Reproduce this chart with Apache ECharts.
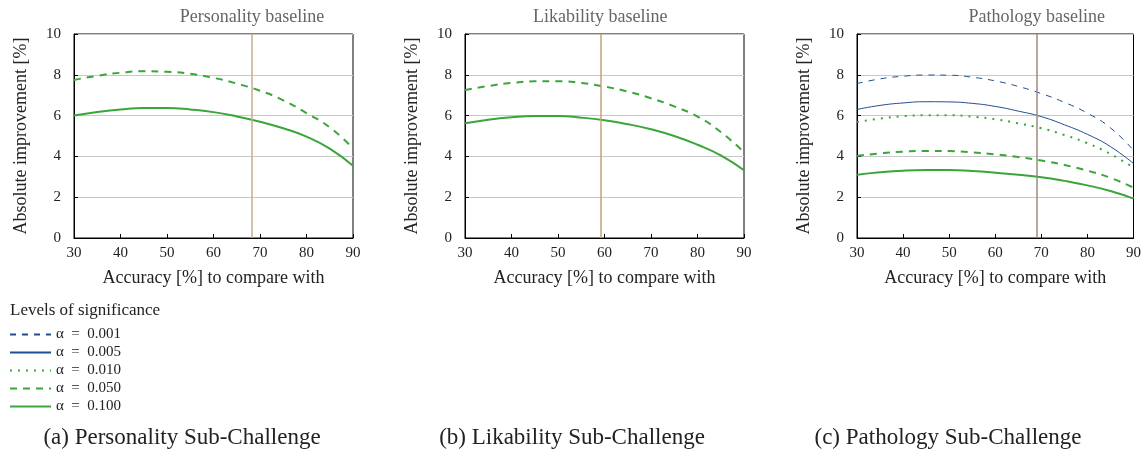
<!DOCTYPE html>
<html><head><meta charset="utf-8">
<script src="https://cdn.jsdelivr.net/npm/echarts@6/dist/echarts.min.js"></script>
<style>html,body{margin:0;padding:0;background:#fff}#c{width:1144px;height:451px}</style>
</head><body><div id="c"></div>
<script>
const accuracy = [30,35,40,45,50,55,60,65,70,75,80,85,90];
const yTicks = [0,2,4,6,8,10];
const legendNames = ['α = 0.001','α = 0.005','α = 0.010','α = 0.050','α = 0.100'];
const panelTitles = ['Personality baseline','Likability baseline','Pathology baseline'];
const captions = ['(a) Personality Sub-Challenge','(b) Likability Sub-Challenge','(c) Pathology Sub-Challenge'];
const baselines = [68.3, 59.1, 69.0];

// Personality
const pers_a050 = [7.75,7.95,8.10,8.17,8.15,8.05,7.85,7.57,7.22,6.75,6.12,5.42,4.40];
const pers_a100 = [6.00,6.18,6.30,6.37,6.37,6.30,6.17,5.96,5.70,5.38,4.97,4.38,3.54];
// Likability
const lik_a050 = [7.25,7.45,7.60,7.68,7.68,7.60,7.42,7.18,6.85,6.45,5.95,5.20,4.20];
const lik_a100 = [5.62,5.80,5.92,5.98,5.98,5.90,5.77,5.58,5.33,5.00,4.57,4.05,3.32];
// Pathology
const path_a001 = [7.57,7.80,7.93,7.99,7.98,7.88,7.70,7.43,7.08,6.65,6.12,5.40,4.30];
const path_a005 = [6.30,6.50,6.62,6.68,6.67,6.60,6.45,6.22,5.95,5.55,5.08,4.48,3.65];
const path_a010 = [5.69,5.85,5.97,6.02,6.02,5.95,5.82,5.62,5.38,5.05,4.65,4.12,3.45];
const path_a050 = [4.02,4.15,4.23,4.27,4.26,4.20,4.10,3.97,3.80,3.58,3.30,2.95,2.47];
const path_a100 = [3.10,3.22,3.30,3.33,3.33,3.28,3.20,3.10,2.98,2.80,2.58,2.30,1.93];

const FONT = '"Liberation Serif", "DejaVu Serif", serif';
const BLUE = '#1f4f8f', GREEN = '#3aa53a';
const styles = {
  'α = 0.001': {color: BLUE, width: 1, type: [6,6]},
  'α = 0.005': {color: BLUE, width: 1, type: 'solid'},
  'α = 0.010': {color: GREEN, width: 2, type: [2,6]},
  'α = 0.050': {color: GREEN, width: 2, type: [7,6]},
  'α = 0.100': {color: GREEN, width: 2, type: 'solid'}
};
const grids = [
  {left: 74, top: 34, width: 279, height: 204},
  {left: 465, top: 34, width: 279, height: 204},
  {left: 857, top: 34, width: 277, height: 204}
];
const baselineColors = ['#c9ab8c','#c9a27a','#9c8c7c'];

const xAxes = grids.map((g,i)=>({
  type:'value', gridIndex:i, min:30, max:90, interval:10,
  name:'Accuracy [%] to compare with', nameLocation:'middle', nameGap:31,
  nameTextStyle:{fontFamily:FONT, fontSize:18, color:'#222'},
  axisLine:{show:true, lineStyle:{color:'#000', width:1}},
  axisTick:{show:true, inside:true, length:4, lineStyle:{color:'#000'}},
  axisLabel:{fontFamily:FONT, fontSize:15, color:'#222', margin:8},
  splitLine:{show:false}
}));
const yAxes = grids.map((g,i)=>({
  type:'value', gridIndex:i, min:0, max:10, interval:2,
  name:'Absolute improvement [%]', nameLocation:'middle', nameGap:44,
  nameTextStyle:{fontFamily:FONT, fontSize:18, color:'#222'},
  axisLine:{show:true, lineStyle:{color:'#000', width:1}},
  axisTick:{show:true, inside:true, length:4, lineStyle:{color:'#000'}},
  axisLabel:{fontFamily:FONT, fontSize:15, color:'#222', margin:13},
  splitLine:{show:true, lineStyle:{color:'#c8c8c8', width:1}}
}));

function mk(name, data, i, withMark){
  const s = styles[name];
  const ser = {
    name, type:'line', xAxisIndex:i, yAxisIndex:i, smooth:true, symbol:'none',
    data: accuracy.map((x,k)=>[x,data[k]]),
    lineStyle:{color:s.color, width:s.width, type:s.type},
    itemStyle:{color:s.color}, z:3, silent:true
  };
  if (withMark){
    ser.markLine = {silent:true, symbol:['none','none'], label:{show:false},
      lineStyle:{color:baselineColors[i], width:1.5, type:'solid'},
      data:[{xAxis:baselines[i]}]};
  }
  return ser;
}

const series = [
  mk('α = 0.050', pers_a050, 0, true),
  mk('α = 0.100', pers_a100, 0, false),
  mk('α = 0.050', lik_a050, 1, true),
  mk('α = 0.100', lik_a100, 1, false),
  mk('α = 0.001', path_a001, 2, true),
  mk('α = 0.005', path_a005, 2, false),
  mk('α = 0.010', path_a010, 2, false),
  mk('α = 0.050', path_a050, 2, false),
  mk('α = 0.100', path_a100, 2, false)
];

const chart = echarts.init(document.getElementById('c'), null, {renderer:'canvas'});

chart.setOption({
  animation:false,
  backgroundColor:'#fff',
  grid: grids.map(g=>Object.assign({show:true, borderColor:'#000', borderWidth:1, backgroundColor:'transparent'}, g)),
  xAxis:xAxes, yAxis:yAxes,
  legend:{
    data: legendNames, orient:'vertical', left:9, top:327, itemWidth:41, itemHeight:14, itemGap:3,
    itemStyle:{opacity:0},
    formatter: n => n.replace(' = ', '  =  '),
    textStyle:{fontFamily:FONT, fontSize:15, color:'#222', lineHeight:14},
    selectedMode:false, padding:0
  },
  series
});

const titles = [];
panelTitles.forEach((t,i)=>{
  const px = chart.convertToPixel({xAxisIndex:i}, baselines[i]);
  titles.push({text:t, left:px, top:8, textAlign:'center', padding:0,
    textStyle:{fontFamily:FONT, fontSize:18, fontWeight:'normal', color:'#666'}});
});
const capX = [182, 572, 948];
captions.forEach((t,i)=>{
  titles.push({text:t, left:capX[i], top:426, textAlign:'center', padding:0,
    textStyle:{fontFamily:FONT, fontSize:23, fontWeight:'normal', color:'#222'}});
});
titles.push({text:'Levels of significance', left:10, top:302, padding:0,
  textStyle:{fontFamily:FONT, fontSize:17, fontWeight:'normal', color:'#222'}});
chart.setOption({title:titles});
</script>
</body></html>
